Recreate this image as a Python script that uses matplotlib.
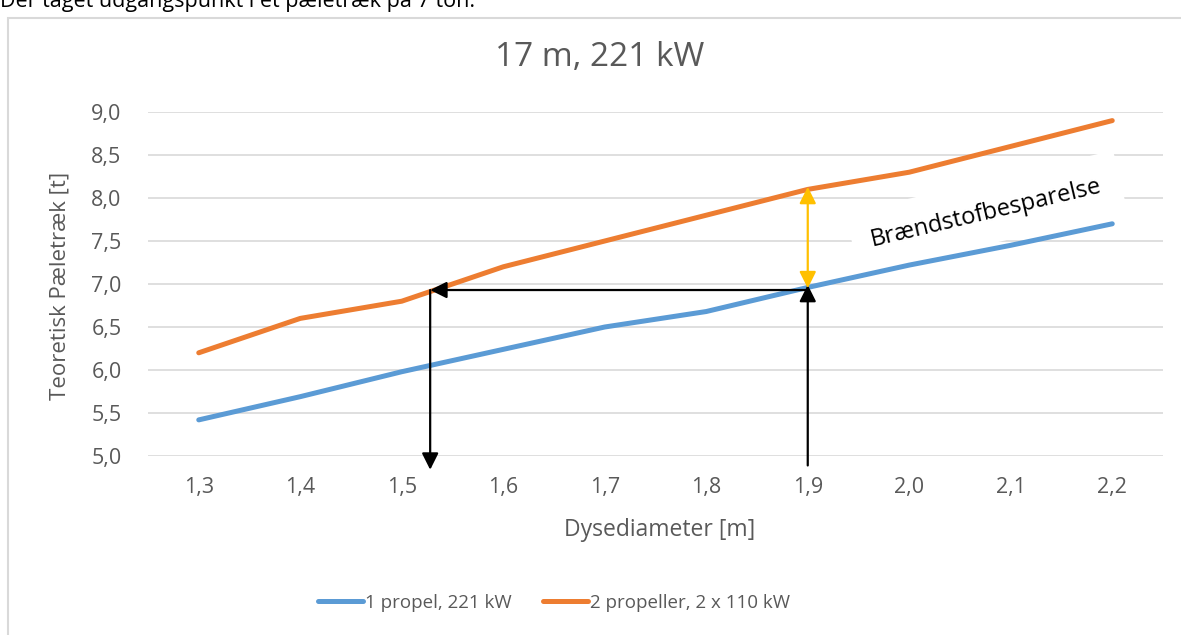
import matplotlib
matplotlib.use('Agg')
import matplotlib.pyplot as plt
import matplotlib.patches as mpatches
import matplotlib.ticker as ticker

# Pæletræk vs. dysediameter
diameter = [1.3, 1.4, 1.5, 1.6, 1.7, 1.8, 1.9, 2.0, 2.1, 2.2]
en_propel = [5.42, 5.69, 5.98, 6.24, 6.50, 6.68, 6.96, 7.22, 7.45, 7.70]
to_propeller = [6.20, 6.60, 6.80, 7.20, 7.50, 7.80, 8.10, 8.30, 8.60, 8.90]

labels = ['1 propel, 221 kW', '2 propeller, 2 x 110 kW']
xticklabels = ['1,3', '1,4', '1,5', '1,6', '1,7', '1,8', '1,9', '2,0', '2,1', '2,2']
yticks = [5.0, 5.5, 6.0, 6.5, 7.0, 7.5, 8.0, 8.5, 9.0]

# arrows: same pull reached with 2 propellers at smaller nozzle
target_pull = 6.93
d_small = 1.528
d_large = 1.9
pull_top = 8.13

plt.rcParams['font.family'] = ['Open Sans', 'DejaVu Sans']
grey = '#595959'

W, H = 1181, 635
fig = plt.figure(figsize=(W / 100, H / 100), dpi=100)
ax = fig.add_axes([148 / W, 1 - 456 / H, (1163 - 148) / W, (456 - 112) / H])

ax.plot(diameter, en_propel, color='#5B9BD5', lw=3.6, solid_capstyle='round', label=labels[0], zorder=4)
ax.plot(diameter, to_propeller, color='#ED7D31', lw=3.6, solid_capstyle='round', label=labels[1], zorder=4)

ax.set_xlim(1.25, 2.25)
ax.set_ylim(5, 9)
ax.set_xticks(diameter)
ax.set_xticklabels(xticklabels)
ax.set_yticks(yticks)
ax.yaxis.set_major_formatter(ticker.FuncFormatter(lambda v, p: ('%.1f' % v).replace('.', ',')))
ax.tick_params(length=0, labelsize=15.5, labelcolor=grey)
ax.tick_params(axis='y', pad=19)
ax.tick_params(axis='x', pad=15)
ax.grid(axis='y', color='#D9D9D9', lw=1.2, zorder=0)
ax.set_axisbelow(True)
for s in ax.spines.values():
    s.set_visible(False)

fig.text(60 / W, 1 - 286 / H, 'Teoretisk Pæletræk [t]', rotation=90, ha='center', va='center',
         fontsize=16, color=grey)
fig.text(660 / W, 1 - 530 / H, 'Dysediameter [m]', ha='center', va='center', fontsize=16.5, color=grey)
fig.text(600 / W, 1 - 58 / H, '17 m, 221 kW', ha='center', va='center', fontsize=24, color=grey)

# arrows
black = dict(arrowstyle='-|>,head_length=0.5,head_width=0.25', color='black', lw=1.6,
             mutation_scale=20, shrinkA=0, shrinkB=0)
ax.annotate('', xy=(d_small, target_pull), xytext=(d_large, target_pull), arrowprops=black,
            annotation_clip=False, zorder=5)
ax.annotate('', xy=(d_small, 4.84), xytext=(d_small, target_pull), arrowprops=black,
            annotation_clip=False, zorder=5)
ax.annotate('', xy=(d_large, 6.99), xytext=(d_large, 4.89), arrowprops=black,
            annotation_clip=False, zorder=5)
yellow = dict(black, arrowstyle='<|-|>,head_length=0.5,head_width=0.25', color='#FFC000')
ax.annotate('', xy=(d_large, pull_top), xytext=(d_large, 6.95), arrowprops=yellow,
            annotation_clip=False, zorder=5)

ax.text(2.076, 7.83, 'Brændstofbesparelse', rotation=13.3, ha='center', va='center', fontsize=17,
        color='black', zorder=3, rotation_mode='anchor',
        bbox=dict(facecolor='white', edgecolor='none', pad=14))

fig.legend(loc='center', bbox_to_anchor=(554 / W, 1 - 603 / H), ncol=2, frameon=False,
           fontsize=13.5, labelcolor=grey, handlelength=2.4, handletextpad=0.1, columnspacing=1.7)

# chart frame and text above it
fig.patches.append(mpatches.Rectangle((8 / W, -0.2), 1.2, 1.2 - 18 / H, transform=fig.transFigure,
                                      fill=False, edgecolor='#D9D9D9', lw=1.5))
fig.text(0.0, 1 - 7 / H, 'Der taget udgangspunkt i et pæletræk på 7 ton.', ha='left', va='baseline',
         fontsize=15.5, color='black')

fig.savefig('out.png', dpi=100)
